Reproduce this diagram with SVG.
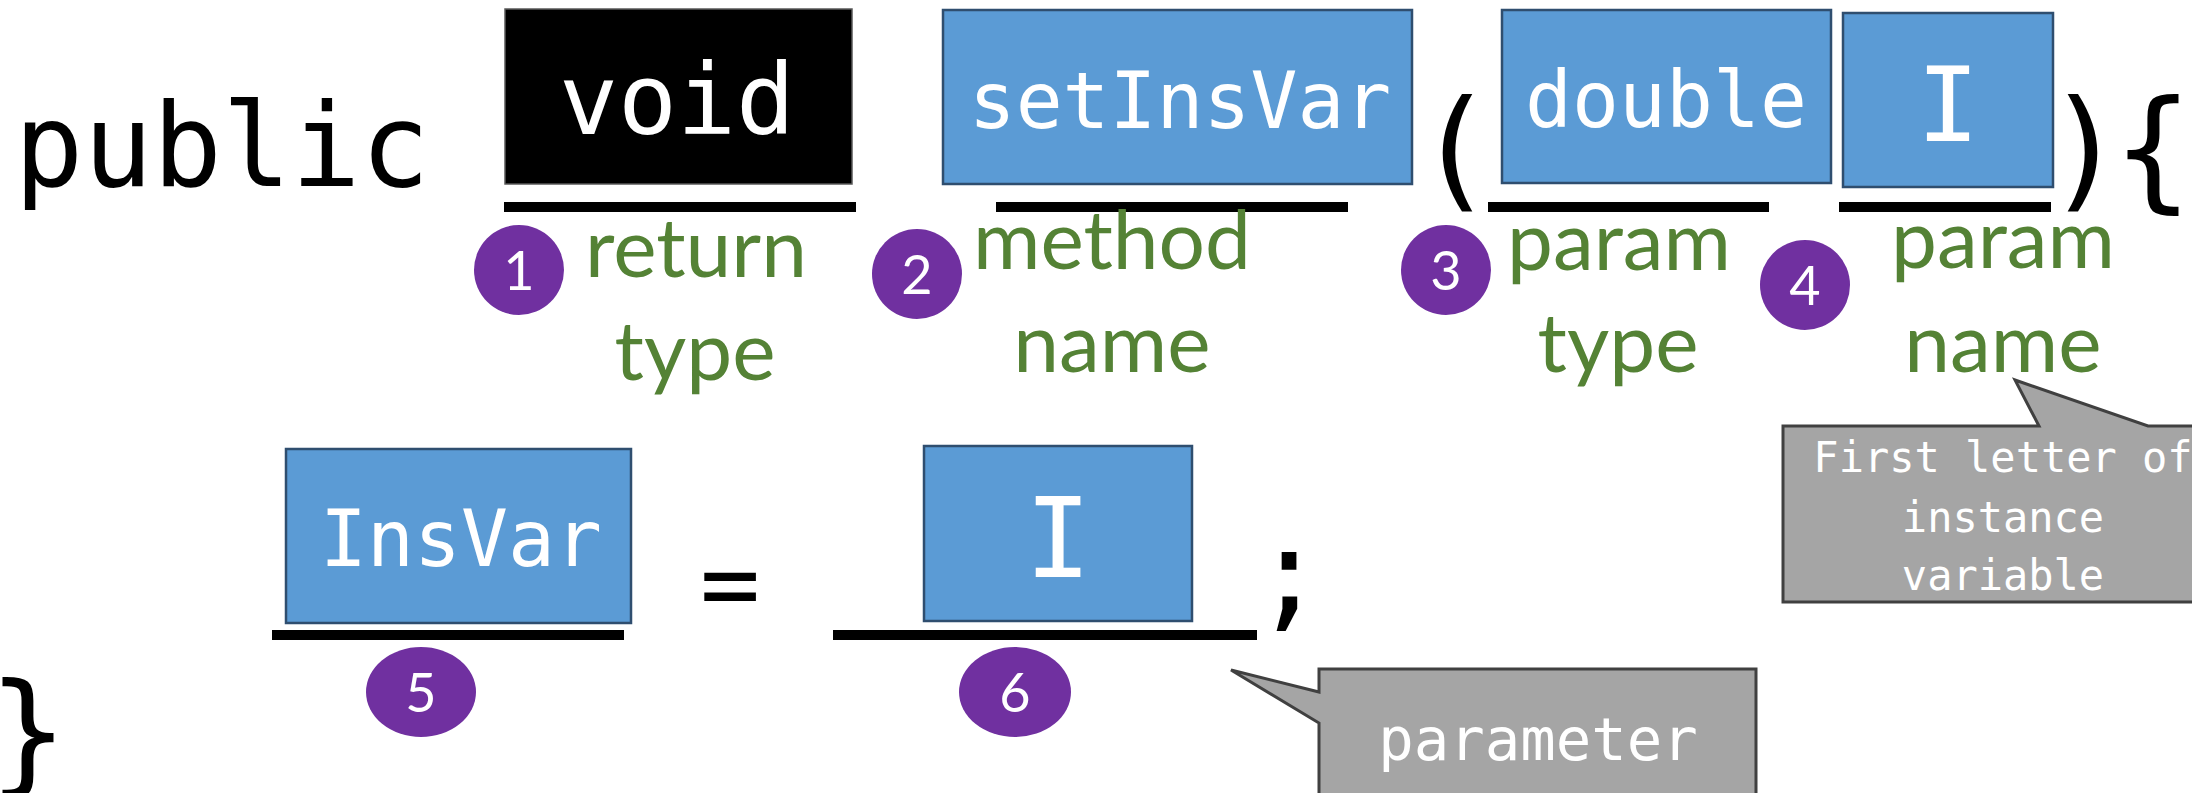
<svg xmlns="http://www.w3.org/2000/svg" width="2192" height="793" viewBox="0 0 2192 793">
  <style>
    .code { font-family: "DejaVu Sans Mono", "Liberation Mono", monospace; fill: #000; }
    .boxtxt { font-family: "DejaVu Sans Mono", "Liberation Mono", monospace; fill: #fff; text-anchor: middle; }
    .blue { fill: #5B9BD5; stroke: #2F4E6F; stroke-width: 2.5; }
    .dark { fill: #000; stroke: #595959; stroke-width: 1.5; }
    .bar { fill: #000; }
    .label { font-family: Lato, "Open Sans", sans-serif; font-size: 82px; fill: #548235; text-anchor: middle; }
    .badge { fill: #7030A0; }
    .num { font-family: Lato, "Open Sans", sans-serif; font-size: 54px; fill: #fff; text-anchor: middle; }
    .callout { fill: #A5A5A5; stroke: #404040; stroke-width: 3; stroke-linejoin: miter; }
    .ctxt { font-family: "DejaVu Sans Mono", "Liberation Mono", monospace; fill: #fff; text-anchor: middle; }
  </style>

  <!-- first line: method header -->
  <g id="kw-public">
    <text class="code" x="222" y="186" font-size="115" text-anchor="middle">public</text>
  </g>

  <g id="node-void">
    <rect class="dark" x="505" y="9" width="347" height="175"/>
    <text class="boxtxt" x="677" y="134" font-size="98">void</text>
  </g>

  <g id="node-setInsVar">
    <rect class="blue" x="943" y="10" width="469" height="174"/>
    <text class="boxtxt" x="1180" y="128" font-size="78">setInsVar</text>
  </g>

  <g id="node-double">
    <rect class="blue" x="1502" y="10" width="329" height="173"/>
    <text class="boxtxt" x="1666" y="127" font-size="78">double</text>
  </g>

  <g id="node-param-I">
    <rect class="blue" x="1843" y="13" width="210" height="174"/>
    <text class="boxtxt" x="1948" y="141" font-size="104">I</text>
  </g>

  <g id="punct-header">
    <text class="code" x="1455" y="194" font-size="132" text-anchor="middle">(</text>
    <text class="code" x="2085" y="194" font-size="132" text-anchor="middle">)</text>
    <text class="code" x="2153" y="194" font-size="132" text-anchor="middle">{</text>
  </g>

  <!-- second line: assignment -->
  <g id="node-InsVar">
    <rect class="blue" x="286" y="449" width="345" height="174"/>
    <text class="boxtxt" x="461" y="566" font-size="78">InsVar</text>
  </g>

  <g id="op-assign">
    <text class="code" x="730" y="618" font-size="100" text-anchor="middle">=</text>
  </g>

  <g id="node-value-I">
    <rect class="blue" x="924" y="446" width="268" height="175"/>
    <text class="boxtxt" x="1058" y="577" font-size="110">I</text>
  </g>

  <g id="punct-body">
    <text class="code" x="1289" y="614" font-size="120" text-anchor="middle">;</text>
    <text class="code" x="28" y="777" font-size="132" text-anchor="middle">}</text>
  </g>

  <!-- blanks under each slot -->
  <g id="connectors">
    <rect class="bar" x="504" y="202" width="352" height="10"/>
    <rect class="bar" x="996" y="202" width="352" height="10"/>
    <rect class="bar" x="1488" y="202" width="281" height="10"/>
    <rect class="bar" x="1839" y="202" width="212" height="10"/>
    <rect class="bar" x="272" y="630" width="352" height="10"/>
    <rect class="bar" x="833" y="630" width="424" height="10"/>
  </g>

  <!-- numbered descriptions -->
  <g id="step-1">
    <circle class="badge" cx="519" cy="270" r="45"/>
    <text class="num" x="519" y="290">1</text>
    <text class="label" x="696" y="277">return</text>
    <text class="label" x="695" y="380">type</text>
  </g>

  <g id="step-2">
    <circle class="badge" cx="917" cy="274" r="45"/>
    <text class="num" x="917" y="294">2</text>
    <text class="label" x="1112" y="269">method</text>
    <text class="label" x="1112" y="372">name</text>
  </g>

  <g id="step-3">
    <circle class="badge" cx="1446" cy="270" r="45"/>
    <text class="num" x="1446" y="290">3</text>
    <text class="label" x="1619" y="270">param</text>
    <text class="label" x="1618" y="372">type</text>
  </g>

  <g id="step-4">
    <circle class="badge" cx="1805" cy="285" r="45"/>
    <text class="num" x="1805" y="305">4</text>
    <text class="label" x="2003" y="268">param</text>
    <text class="label" x="2003" y="372">name</text>
  </g>

  <g id="step-5">
    <ellipse class="badge" cx="421" cy="692" rx="55" ry="45"/>
    <text class="num" x="421" y="712">5</text>
  </g>

  <g id="step-6">
    <ellipse class="badge" cx="1015" cy="692" rx="56" ry="45"/>
    <text class="num" x="1015" y="712">6</text>
  </g>

  <!-- speech-bubble notes -->
  <g id="note-first-letter">
    <path class="callout" d="M1783,426 L2039,426 L2015,380 L2148,426 L2225,426 L2225,602 L1783,602 Z"/>
    <text class="ctxt" x="2003" y="472" font-size="42">First letter of</text>
    <text class="ctxt" x="2003" y="532" font-size="42">instance</text>
    <text class="ctxt" x="2003" y="590" font-size="42">variable</text>
  </g>

  <g id="note-parameter">
    <path class="callout" d="M1319,669 L1756,669 L1756,800 L1319,800 L1319,723 L1231,670 L1319,692 Z"/>
    <text class="ctxt" x="1538" y="760" font-size="59">parameter</text>
  </g>
</svg>
